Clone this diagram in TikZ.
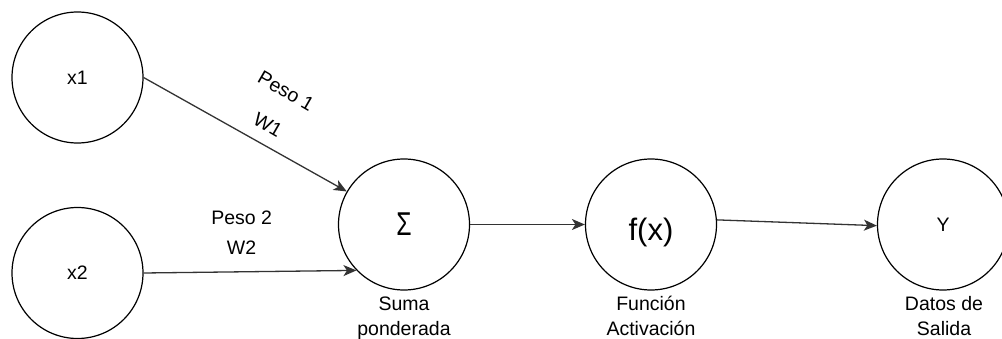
\documentclass[tikz,border=0pt]{standalone}
\usepackage{fontspec}
\usepackage{graphicx}
\setmainfont{Liberation Sans}
\usetikzlibrary{arrows.meta}

\begin{document}
\begin{tikzpicture}[x=1pt,y=-1pt,
  neuron/.style={circle,draw=black,line width=1.2pt,minimum size=131pt,inner sep=0pt,
                 font=\fontsize{19.5}{23}\selectfont},
  bigsym/.style={font=\fontsize{31}{35}\selectfont},
  conn/.style={draw=black!80,line width=1.3pt,-{Stealth[length=13pt,width=11pt,inset=3.5pt]}},
  txt/.style={font=\fontsize{19.5}{23}\selectfont,inner sep=0pt},
  caption/.style={txt,anchor=base,align=center}
]
\useasboundingbox (0,0) rectangle (1002,339);

% inputs
\node[neuron] (x1) at (77.5,77.5) {x1};
\node[neuron] (x2) at (77.5,273) {x2};

% weighted sum, activation and output
\node[neuron,bigsym,font=\fontsize{33}{36}\selectfont] (sum) at (404,224.5) {\scalebox{0.75}[1]{Σ}};
\node[neuron,bigsym,text height=32pt,text depth=0pt] (fx) at (651,224.5) {f(x)};
\node[neuron] (out) at (943,224.5) {Y};

% connectors
\draw[conn] (x1.east) -- (sum.150);
\draw[conn] (x2.east) -- (sum.224);
\draw[conn] (sum.east) -- (fx.west);
\draw[conn] (fx.4) -- (out.181);

% weights
\node[txt,rotate=-30] (p1) at (286,91) {Peso 1};
\node[txt,rotate=-30] (w1) at (268,125) {W1};
\node[caption] (p2) at (241.7,225) {Peso 2};
\node[caption] (w2) at (241.5,255) {W2};

% captions under the neurons
\node[caption] (c1a) at (404,311) {Suma};
\node[caption] (c1b) at (404,335) {ponderada};
\node[caption] (c2a) at (651,311) {Función};
\node[caption] (c2b) at (651,335) {Activación};
\node[caption] (c3a) at (944,311) {Datos de};
\node[caption] (c3b) at (944,335) {Salida};
\end{tikzpicture}
\end{document}
